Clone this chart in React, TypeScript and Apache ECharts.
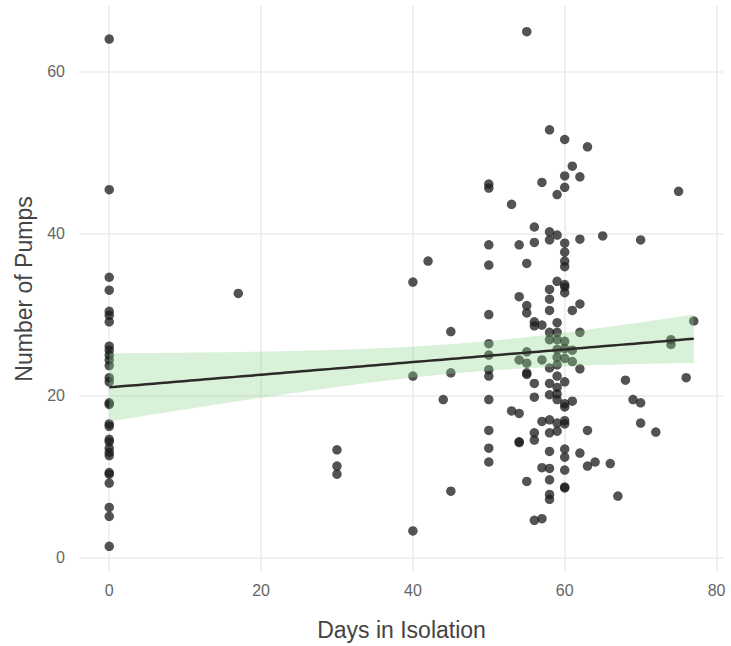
import React, { useEffect, useRef } from "react";
import * as echarts from "echarts";

// Days in isolation (x) and the pumps observed at each day (y)
const dayValues = [0, 17, 30, 40, 42, 44, 45, 50, 53, 54, 55, 56, 57, 58, 59, 60, 61, 62, 63, 64, 65, 66, 67, 68, 69, 70, 72, 74, 75, 76, 77];
const pumpsAtDay = [
  [64.0, 45.4, 34.6, 33.0, 30.4, 29.9, 29.1, 26.1, 25.6, 25.0, 24.4, 23.7, 22.2, 21.7, 19.1, 18.9, 16.5, 16.2, 14.6, 14.3, 13.5, 13.0, 12.6, 10.5, 10.3, 9.2, 6.2, 5.1, 1.4],
  [32.6],
  [13.3, 11.3, 10.3],
  [34.0, 22.4, 3.3],
  [36.6],
  [19.5],
  [27.9, 22.8, 8.2],
  [46.1, 45.6, 38.6, 36.1, 30.0, 26.4, 25.0, 23.2, 22.4, 19.5, 15.7, 13.5, 11.8],
  [43.6, 18.1],
  [38.6, 32.2, 24.4, 17.8, 14.3, 14.2],
  [64.9, 36.3, 31.1, 30.2, 25.4, 24.0, 22.8, 22.6, 9.4],
  [40.8, 38.9, 29.1, 28.6, 21.5, 19.8, 15.4, 14.5, 4.6],
  [46.3, 28.7, 24.4, 16.8, 11.1, 4.8],
  [52.8, 40.2, 39.2, 33.1, 31.9, 30.5, 27.8, 26.9, 23.4, 21.5, 20.1, 17.0, 15.4, 13.1, 11.0, 9.6, 7.8, 7.2],
  [44.8, 39.8, 34.1, 29.0, 27.8, 26.9, 25.7, 24.7, 23.8, 22.4, 21.0, 20.2, 19.5, 16.6, 15.6],
  [51.6, 47.1, 45.7, 38.8, 37.7, 36.6, 35.9, 33.7, 33.4, 32.7, 26.7, 25.8, 24.6, 21.7, 19.0, 18.6, 16.9, 16.5, 13.4, 12.4, 10.8, 8.7, 8.6],
  [48.3, 30.5, 25.6, 24.2, 19.3],
  [47.0, 39.3, 31.3, 27.8, 23.3, 12.9],
  [50.7, 15.7, 11.3],
  [11.8],
  [39.7],
  [11.6],
  [7.6],
  [21.9],
  [19.5],
  [39.2, 19.1, 16.6],
  [15.5],
  [26.9, 26.3],
  [45.2],
  [22.2],
  [29.2],
];

const xTicks = [0, 20, 40, 60, 80];
const yTicks = [0, 20, 40, 60];
const xTitle = "Days in Isolation";
const yTitle = "Number of Pumps";

export default function App() {
  const ref = useRef<HTMLDivElement>(null);

  useEffect(() => {
    document.body.style.margin = "0";
    const chart = echarts.init(ref.current as HTMLDivElement, null, { renderer: "svg" });

    const points: number[][] = [];
    dayValues.forEach((d, i) => pumpsAtDay[i].forEach((p) => points.push([d, p])));

    // linear fit with 95% confidence band (like geom_smooth(method = "lm"))
    const n = points.length;
    const mx = points.reduce((s, p) => s + p[0], 0) / n;
    const my = points.reduce((s, p) => s + p[1], 0) / n;
    let sxx = 0, sxy = 0;
    points.forEach((p) => { sxx += (p[0] - mx) ** 2; sxy += (p[0] - mx) * (p[1] - my); });
    const b = sxy / sxx;
    const a = my - b * mx;
    let sse = 0;
    points.forEach((p) => { sse += (p[1] - (a + b * p[0])) ** 2; });
    const s = Math.sqrt(sse / (n - 2));
    const tq = 1.974;
    const xs = points.map((p) => p[0]);
    const ysAll = points.map((p) => p[1]);
    const xMinD = Math.min(...xs), xMaxD = Math.max(...xs);
    const yMinD = Math.min(...ysAll), yMaxD = Math.max(...ysAll);
    const fx: number[] = [], lo: number[] = [], hi: number[] = [], fy: number[] = [];
    const steps = 80;
    for (let i = 0; i < steps; i++) {
      const x = xMinD + ((xMaxD - xMinD) * i) / (steps - 1);
      const y = a + b * x;
      const se = s * Math.sqrt(1 / n + (x - mx) ** 2 / sxx);
      fx.push(x); fy.push(y); lo.push(y - tq * se); hi.push(y + tq * se);
    }
    const bandLo = Math.min(...lo), bandHi = Math.max(...hi);
    const yLo = Math.min(yMinD, bandLo), yHi = Math.max(yMaxD, bandHi);
    const xPad = (xMaxD - xMinD) * 0.05;
    const yPad = (yHi - yLo) * 0.05;

    const font = "'Liberation Sans', Arial, sans-serif";

    chart.setOption({
      animation: false,
      grid: { left: 80, right: 8, top: 6, bottom: 72, containLabel: false },
      xAxis: {
        type: "value",
        min: xMinD - xPad,
        max: xMaxD + xPad,
        name: xTitle,
        nameLocation: "middle",
        nameGap: 46,
        nameTextStyle: { fontFamily: font, fontSize: 23, color: "#444444" },
        axisLine: { show: false },
        axisTick: { show: false, customValues: xTicks },
        axisLabel: { customValues: xTicks, fontFamily: font, fontSize: 16, color: "#666666", margin: 10 },
        splitLine: { show: true, lineStyle: { color: "#ebebeb", width: 1.6 } },
      },
      yAxis: {
        type: "value",
        min: yLo - yPad,
        max: yHi + yPad,
        name: yTitle,
        nameLocation: "middle",
        nameRotate: 90,
        nameGap: 45,
        nameTextStyle: { fontFamily: font, fontSize: 23, color: "#444444" },
        axisLine: { show: false },
        axisTick: { show: false, customValues: yTicks },
        axisLabel: { customValues: yTicks, fontFamily: font, fontSize: 16, color: "#666666", margin: 15 },
        splitLine: { show: true, lineStyle: { color: "#ebebeb", width: 1.6 } },
      },
      series: [
        {
          type: "scatter",
          data: points,
          symbolSize: 9.5,
          itemStyle: { color: "#1a1a1a", opacity: 0.75 },
          z: 2,
          silent: true,
        },
        {
          type: "custom",
          silent: true,
          z: 3,
          data: [[fx[0], fy[0]]],
          renderItem: (_params: any, api: any) => {
            const pts: number[][] = [];
            for (let i = 0; i < fx.length; i++) pts.push(api.coord([fx[i], hi[i]]));
            for (let i = fx.length - 1; i >= 0; i--) pts.push(api.coord([fx[i], lo[i]]));
            return {
              type: "polygon",
              shape: { points: pts },
              style: { fill: "rgba(140, 210, 140, 0.33)", stroke: "none" },
            };
          },
        },
        {
          type: "line",
          data: fx.map((x, i) => [x, fy[i]]),
          symbol: "none",
          lineStyle: { color: "#2a2a2a", width: 2.5 },
          z: 4,
          silent: true,
        },
      ],
    });

    return () => chart.dispose();
  }, []);

  return <div ref={ref} style={{ position: "absolute", left: 0, top: 0, width: 731, height: 646 }} />;
}
